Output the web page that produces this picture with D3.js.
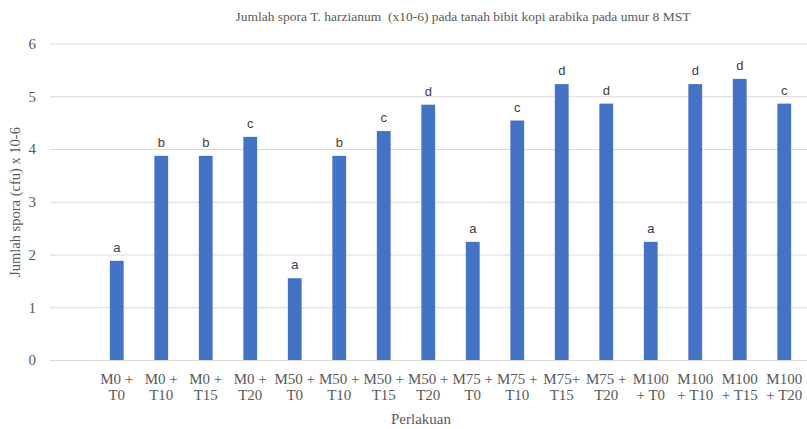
<!DOCTYPE html>
<html>
<head>
<meta charset="utf-8">
<script src="https://cdn.jsdelivr.net/npm/d3@7"></script>
<style>
  body { margin: 0; background: #fff; }
  svg { display: block; }
  .serif { font-family: "Liberation Serif", "Times New Roman", serif; }
  .sans { font-family: "Liberation Sans", Arial, sans-serif; }
</style>
</head>
<body>
<svg id="chart"></svg>
<script>
// data
var line1 = ["M0 +","M0 +","M0 +","M0 +","M50 +","M50 +","M50 +","M50 +","M75 +","M75 +","M75+","M75 +","M100","M100","M100","M100"];
var line2 = ["T0","T10","T15","T20","T0","T10","T15","T20","T0","T10","T15","T20","+ T0","+ T10","+ T15","+ T20"];
var values = [1.88, 3.87, 3.87, 4.23, 1.55, 3.87, 4.34, 4.84, 2.24, 4.54, 5.23, 4.86, 2.24, 5.23, 5.33, 4.86];
var letters = ["a","b","b","c","a","b","c","d","a","c","d","d","a","d","d","c"];
var yTicks = [0,1,2,3,4,5,6];

var width = 807, height = 429;

var svg = d3.select("#chart")
    .attr("width", width)
    .attr("height", height);

var keys = values.map(function(d, i){ return i; });

var x = d3.scaleBand()
    .domain(keys)
    .range([94.5, 806.5])
    .paddingInner(0.69)
    .paddingOuter(0.345);

var y = d3.scaleLinear()
    .domain([0, 6])
    .range([360, 43.5]);

// title
svg.append("text")
    .attr("class", "serif")
    .attr("x", 463)
    .attr("y", 21)
    .attr("text-anchor", "middle")
    .style("white-space", "pre")
    .style("font-size", "13.5px")
    .attr("fill", "#595959")
    .text("Jumlah spora T. harzianum  (x10-6) pada tanah bibit kopi arabika pada umur 8 MST");

// gridlines + y tick labels
var yAxis = d3.axisLeft(y)
    .tickValues(yTicks)
    .tickSize(-(width - 50))
    .tickPadding(14)
    .tickFormat(d3.format("d"));

var gy = svg.append("g")
    .attr("transform", "translate(50,0)")
    .call(yAxis);
gy.attr("font-family", null);
gy.select(".domain").remove();
gy.selectAll(".tick line").attr("stroke", "#d9d9d9").attr("stroke-width", 1);
gy.selectAll(".tick text")
    .attr("class", "serif")
    .attr("fill", "#595959")
    .style("font-size", "15px");

// bars
svg.append("g")
  .selectAll("rect")
  .data(values)
  .enter().append("rect")
    .attr("x", function(d, i){ return x(i); })
    .attr("y", function(d){ return y(d); })
    .attr("width", x.bandwidth())
    .attr("height", function(d){ return y(0) - y(d); })
    .attr("fill", "#4472c4");

// significance letters
svg.append("g")
  .selectAll("text")
  .data(values)
  .enter().append("text")
    .attr("class", "sans")
    .attr("x", function(d, i){ return x(i) + x.bandwidth() / 2; })
    .attr("y", function(d){ return y(d) - 9; })
    .attr("text-anchor", "middle")
    .style("font-size", "13px")
    .attr("fill", "#404040")
    .text(function(d, i){ return letters[i]; });

// x category labels (two lines)
var lab = svg.append("g")
    .selectAll("text")
    .data(keys)
    .enter().append("text")
    .attr("class", "serif")
    .attr("text-anchor", "middle")
    .style("font-size", "15px")
    .attr("fill", "#595959");
lab.append("tspan")
    .attr("x", function(d){ return x(d) + x.bandwidth() / 2; })
    .attr("y", 384)
    .text(function(d){ return line1[d]; });
lab.append("tspan")
    .attr("x", function(d){ return x(d) + x.bandwidth() / 2; })
    .attr("y", 400)
    .text(function(d){ return line2[d]; });

// axis titles
svg.append("text")
    .attr("class", "serif")
    .attr("x", 421)
    .attr("y", 424)
    .attr("text-anchor", "middle")
    .style("font-size", "15px")
    .attr("fill", "#595959")
    .text("Perlakuan");

svg.append("text")
    .attr("class", "serif")
    .attr("transform", "translate(20,202) rotate(-90)")
    .attr("text-anchor", "middle")
    .style("font-size", "14.5px")
    .attr("fill", "#595959")
    .text("Jumlah spora (cfu) x 10-6");
</script>
</body>
</html>
